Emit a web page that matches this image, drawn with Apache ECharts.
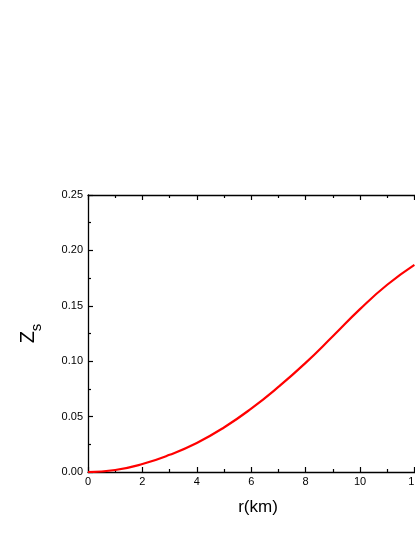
<!DOCTYPE html>
<html lang="en">
<head>
    <meta charset="utf-8">
    <title>Zs</title>
    <script src="https://cdn.jsdelivr.net/npm/echarts@6/dist/echarts.min.js"></script>
    <style>
        html, body { margin: 0; padding: 0; background: #fff; }
    </style>
</head>
<body>
<div id="main" style="width: 415px;height:537px;"></div>

<script type="text/javascript">
    // values
    var rKm = [0, 1, 2, 3, 4, 5, 6, 7, 8, 9, 10, 11, 12];
    var zs = [0, 0.0018, 0.0072, 0.0155, 0.0262, 0.0402, 0.0572, 0.0768, 0.0985, 0.1225, 0.1470, 0.1690, 0.1870];
    var yTicks = [0, 0.25];

    var myChart = echarts.init(document.getElementById('main'));

    var points = rKm.map(function (r, i) { return [r, zs[i]]; });

    var font = 'Liberation Sans, Arial, sans-serif';
    var tickStyle = {show: true, inside: true, length: 5, lineStyle: {color: '#000', width: 1.2}};
    var minorStyle = {show: true, splitNumber: 2, length: 3, lineStyle: {color: '#000', width: 1.2}};
    var lineStyle = {show: true, onZero: false, lineStyle: {color: '#000', width: 1.3}};

    option = {
        animation: false,
        grid: {left: 88, top: 195, bottom: 65, width: 340, outerBoundsMode: 'none', containLabel: false},
        xAxis: [{
            type: 'value',
            min: 0,
            max: 12.5,
            interval: 2,
            position: 'bottom',
            axisLine: lineStyle,
            axisTick: tickStyle,
            minorTick: minorStyle,
            splitLine: {show: false},
            axisLabel: {color: '#000', fontSize: 11, fontFamily: font, margin: 4, showMaxLabel: false},
            name: 'r(km)',
            nameLocation: 'middle',
            nameGap: 27,
            nameTextStyle: {color: '#000', fontSize: 17, fontFamily: font}
        }, {
            type: 'value',
            min: 0,
            max: 12.5,
            interval: 2,
            position: 'top',
            axisLine: lineStyle,
            axisTick: tickStyle,
            minorTick: minorStyle,
            splitLine: {show: false},
            axisLabel: {show: false}
        }],
        yAxis: {
            type: 'value',
            min: yTicks[0],
            max: yTicks[1],
            interval: 0.05,
            axisLine: lineStyle,
            axisTick: tickStyle,
            minorTick: minorStyle,
            splitLine: {show: false},
            axisLabel: {
                color: '#000', fontSize: 11, fontFamily: font, margin: 5,
                formatter: function (v) { return v.toFixed(2); }
            },
            name: '{a|Z}{b|s}',
            nameLocation: 'middle',
            nameRotate: 90,
            nameGap: 44,
            nameTextStyle: {
                color: '#000',
                fontFamily: font,
                rich: {
                    a: {fontSize: 20, fontFamily: font, color: '#000', verticalAlign: 'top', lineHeight: 20},
                    b: {fontSize: 15, fontFamily: font, color: '#000', verticalAlign: 'bottom', lineHeight: 26}
                }
            }
        },
        series: [{
            type: 'line',
            data: points,
            smooth: true,
            showSymbol: false,
            clip: true,
            lineStyle: {color: '#ff0000', width: 2.2}
        }]
    };

    myChart.setOption(option);
</script>

</body>
</html>
